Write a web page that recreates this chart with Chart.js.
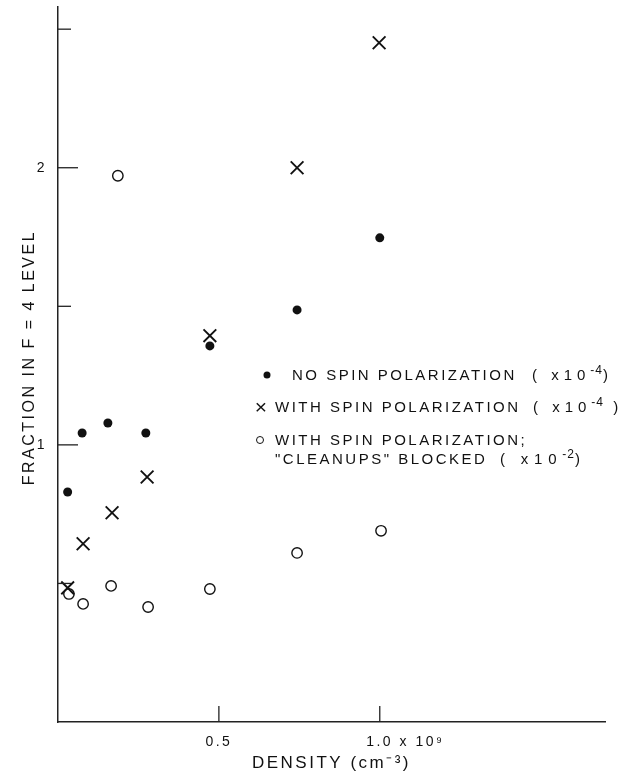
<!DOCTYPE html>
<html>
<head>
<meta charset="utf-8">
<script src="https://cdn.jsdelivr.net/npm/chart.js@4.4.0/dist/chart.umd.min.js"></script>
<style>
    body { margin: 0; background: #ffffff; }
    #wrap { position: relative; width: 623px; height: 780px; }
    #key { font-family: "Liberation Sans", Arial, Helvetica, sans-serif; font-size: 15px; color: #111; letter-spacing: 2.5px; }
    #key .txt { position: absolute; white-space: nowrap; line-height: 16px; }
    #key .par { letter-spacing: 5px; }
    #key .wide { letter-spacing: 5.8px; }
    #key sup { font-size: 12px; vertical-align: 6px; line-height: 0; letter-spacing: 1px; }
    #key .dot { position: absolute; width: 7px; height: 7px; border-radius: 50%; background: #111; transform: translate(-50%, -50%); }
    #key .ring { position: absolute; width: 6px; height: 6px; border-radius: 50%; border: 1px solid #111; transform: translate(-50%, -50%); }
    #key .cross { position: absolute; font-size: 21px; line-height: 21px; letter-spacing: 0; transform: translate(-50%, -52%); }
</style>
</head>
<body>
<div id="wrap">
    <canvas id="graphCanvas"></canvas>
    <div id="key">
        <span class="dot" style="left:267px;top:375px"></span>
        <div class="txt" style="left:292px;top:367px">NO SPIN POLARIZATION</div>
        <div class="txt par" style="left:532px;top:367px">( x10<sup>-4</sup>)</div>
        <span class="cross" style="left:261px;top:407px">&times;</span>
        <div class="txt" style="left:275px;top:399px">WITH SPIN POLARIZATION</div>
        <div class="txt par" style="left:533px;top:399px">( x10<sup>-4</sup> )</div>
        <span class="ring" style="left:260px;top:440px"></span>
        <div class="txt" style="left:275px;top:432px">WITH SPIN POLARIZATION;</div>
        <div class="txt" style="left:275px;top:451px">"CLEANUPS" BLOCKED</div>
        <div class="txt par wide" style="left:500px;top:451px">( x10<sup>-2</sup>)</div>
    </div>
</div>
<script>
// densité en unités de 10^9 cm^-3
var xNoSpin = [0.03, 0.075, 0.155, 0.273, 0.472, 0.743, 1.0];
var yNoSpin = [0.83, 1.043, 1.079, 1.043, 1.357, 1.487, 1.747];

var xSpin = [0.03, 0.078, 0.168, 0.277, 0.472, 0.743, 0.998];
var ySpin = [0.484, 0.643, 0.755, 0.884, 1.394, 2.0, 2.451];

var xBlocked = [0.034, 0.078, 0.165, 0.28, 0.472, 0.743, 1.004, 0.186];
var yBlocked = [0.462, 0.426, 0.491, 0.415, 0.48, 0.61, 0.69, 1.971];

var xTickValues = [0.5, 1.0];
var xTickLabels = ['0.5', '        1.0 x 10\u2079'];
var yTickValues = [1, 2];
var yTickLabels = ['1', '2'];
var yMarks = [0.5, 1, 1.5, 2, 2.5];

showGraph();

function pairs(xs, ys) {
    var out = [];
    for (var i in xs) {
        out.push({ x: xs[i], y: ys[i] });
    }
    return out;
}

function showGraph() {
    Chart.defaults.font.family = '"Liberation Sans", Arial, Helvetica, sans-serif';
    Chart.defaults.color = '#111';

    var spacing = {
        id: 'spacing',
        beforeDraw: function (chart) {
            chart.ctx.letterSpacing = '2.5px';
        }
    };

    // petites graduations tournées vers l'intérieur
    var ticksIn = {
        id: 'ticksIn',
        afterDraw: function (chart) {
            var ctx = chart.ctx, sx = chart.scales.x, sy = chart.scales.y, a = chart.chartArea;
            ctx.save();
            ctx.strokeStyle = '#222';
            ctx.lineWidth = 1.3;
            yMarks.forEach(function (v) {
                var p = sy.getPixelForValue(v);
                var len = (v % 1 === 0) ? 20 : 13;
                ctx.beginPath();
                ctx.moveTo(a.left, p);
                ctx.lineTo(a.left + len, p);
                ctx.stroke();
            });
            xTickValues.forEach(function (v) {
                var p = sx.getPixelForValue(v);
                ctx.beginPath();
                ctx.moveTo(p, a.bottom);
                ctx.lineTo(p, a.bottom - 16);
                ctx.stroke();
            });
            ctx.restore();
        }
    };

    var chartdata = {
        datasets: [{
            label: 'NO SPIN POLARIZATION',
            data: pairs(xNoSpin, yNoSpin),
            pointStyle: 'circle',
            pointRadius: 4.5,
            pointBorderWidth: 0,
            backgroundColor: '#111',
            borderColor: '#111'
        }, {
            label: 'WITH SPIN POLARIZATION',
            data: pairs(xSpin, ySpin),
            pointStyle: 'crossRot',
            pointRadius: 9,
            pointBorderWidth: 1.9,
            backgroundColor: '#111',
            borderColor: '#111'
        }, {
            label: 'CLEANUPS BLOCKED',
            data: pairs(xBlocked, yBlocked),
            pointStyle: 'circle',
            pointRadius: 5.2,
            pointBorderWidth: 1.4,
            backgroundColor: '#ffffff',
            borderColor: '#111'
        }]
    };

    var graphTarget = document.getElementById('graphCanvas');

    new Chart(graphTarget, {
        type: 'scatter',
        data: chartdata,
        plugins: [spacing, ticksIn],
        options: {
            responsive: true,
            maintainAspectRatio: false,
            animation: false,
            layout: { autoPadding: false, padding: { top: 7, right: 18, left: 0, bottom: 0 } },
            plugins: {
                legend: { display: false },
                tooltip: { enabled: false }
            },
            scales: {
                x: {
                    type: 'linear',
                    min: 0,
                    max: 1.7,
                    afterFit: function (s) {
                        s.height = 58;
                        s.paddingLeft = 0;
                        s.paddingRight = 0;
                    },
                    afterBuildTicks: function (s) {
                        s.ticks = xTickValues.map(function (v) { return { value: v }; });
                    },
                    grid: { display: false, drawTicks: false },
                    border: { display: true, color: '#222', width: 1.5 },
                    ticks: {
                        autoSkip: false,
                        maxRotation: 0,
                        padding: 12,
                        font: { size: 14 },
                        callback: function (v, i) { return xTickLabels[i]; }
                    },
                    title: {
                        display: true,
                        text: 'DENSITY (cm\u207B\u00B3)',
                        font: { size: 17 },
                        padding: { top: 0, bottom: 6 }
                    }
                },
                y: {
                    type: 'linear',
                    min: 0,
                    max: 2.58,
                    afterFit: function (s) {
                        s.width = 58;
                        s.paddingTop = 0;
                        s.paddingBottom = 0;
                    },
                    afterBuildTicks: function (s) {
                        s.ticks = yTickValues.map(function (v) { return { value: v }; });
                    },
                    grid: { display: false, drawTicks: false },
                    border: { display: true, color: '#222', width: 1.5 },
                    ticks: {
                        autoSkip: false,
                        padding: 11,
                        font: { size: 14 },
                        callback: function (v, i) { return yTickLabels[i]; }
                    },
                    title: {
                        display: true,
                        text: '  FRACTION IN F = 4 LEVEL',
                        font: { size: 16 },
                        padding: { top: 20, bottom: 0 }
                    }
                }
            }
        }
    });
}
</script>
</body>
</html>
